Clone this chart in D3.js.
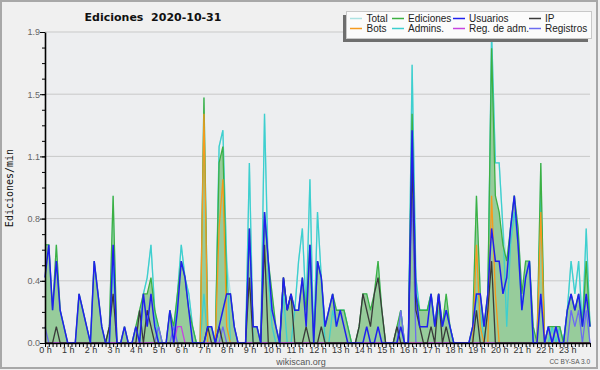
<!DOCTYPE html>
<html>
<head>
<meta charset="utf-8">
<script src="https://d3js.org/d3.v7.min.js"></script>
<title>Ediciones 2020-10-31</title>
<style>
    body { margin: 0px; background: #f0f0f0; }
    svg { display: block; font-family: "Liberation Sans", Arial, sans-serif; }
    .legend text { font-size: 10px; fill: #222; }
</style>
</head>
<body>
<svg width="600" height="370"></svg>
<script>
    // 10-minute bins, values in edits per minute
    const hourLabels = ['0 h', '1 h', '2 h', '3 h', '4 h', '5 h', '6 h', '7 h', '8 h', '9 h', '10 h', '11 h',
        '12 h', '13 h', '14 h', '15 h', '16 h', '17 h', '18 h', '19 h', '20 h', '21 h', '22 h', '23 h'];
    const yTickValues = [0, 0.38, 0.76, 1.14, 1.52, 1.9];
    const yTickLabels = ['0.0', '0.4', '0.8', '1.1', '1.5', '1.9'];

    const total = [
        0.6,0.6,0.2,0.6,0.2,0.1, 0,0,0,0.3,0.2,0.1, 0,0.5,0.3,0.1,0,0.1, 0.9,0,0,0.1,0,0,
        0.1,0.2,0.3,0.4,0.6,0.2, 0.1,0,0,0.2,0.1,0.3, 0.6,0.4,0.3,0.1,0,0, 1.5,0.1,0.1,0,1.2,1.3,
        0.5,0.3,0.1,0,0,0, 1.1,0.1,0.1,0,1.4,0.5, 0.3,0.1,0,0.4,0.2,0.3, 0.2,0.5,0.7,0.2,1.0,0,
        0.8,0.4,0.1,0.2,0.3,0.2, 0.2,0.2,0.1,0,0,0.1, 0.3,0.3,0.2,0.3,0.5,0.2, 0,0,0,0.1,0.2,0,
        0,1.7,0.4,0.2,0.2,0.2, 0.3,0.1,0.3,0.1,0.3,0.1, 0,0,0,0,0,0.1, 0.9,0.3,0.1,0.3,1.9,1.1,
        1.1,0.7,0.5,0.7,0.9,0.7, 0.3,0.5,0.5,0.1,0,1.1, 0,0.1,0.1,0.1,0.1,0, 0.2,0.5,0.3,0.5,0.1,0.7,
        0.1];
    const ediciones = [
        0.6,0.6,0.2,0.6,0.2,0.1, 0,0,0,0.3,0.2,0.1, 0,0.5,0.3,0.1,0,0.1, 0.9,0,0,0.1,0,0,
        0.1,0.2,0.3,0.3,0.4,0.2, 0.1,0,0,0.2,0.1,0.3, 0.5,0.4,0.2,0.1,0,0, 1.5,0.1,0.1,0,1.1,1.2,
        0.3,0.3,0.1,0,0,0, 0.7,0.1,0.1,0,0.8,0.5, 0.3,0.1,0,0.4,0.2,0.3, 0.2,0.2,0.4,0.2,0.6,0,
        0.5,0.4,0.1,0.2,0.3,0.2, 0.2,0.2,0.1,0,0,0.1, 0.3,0.3,0.2,0.3,0.5,0.2, 0,0,0,0.1,0.2,0,
        0,1.4,0.3,0.2,0.2,0.2, 0.3,0.1,0.3,0.1,0.3,0.1, 0,0,0,0,0,0.1, 0.9,0.3,0.1,0.3,1.8,0.9,
        0.8,0.6,0.5,0.7,0.9,0.7, 0.3,0.5,0.5,0.1,0,1.1, 0,0.1,0.1,0.1,0.1,0, 0.2,0.3,0.2,0.3,0.1,0.5,
        0.1];
    const usuarios = [
        0.4,0.6,0.2,0.5,0.2,0.1, 0,0,0,0.3,0.2,0.1, 0,0.5,0.3,0.1,0,0, 0.6,0,0,0.1,0,0,
        0.1,0,0.3,0.1,0.3,0.1, 0,0,0,0.2,0,0.2, 0.5,0.4,0.2,0,0,0, 0,0.1,0.1,0,0.1,0.2,
        0.3,0.3,0.1,0,0,0, 0.7,0.1,0.1,0,0.8,0.5, 0.2,0.1,0,0.4,0.2,0.3, 0.2,0.2,0.4,0.1,0.6,0,
        0.5,0.4,0.1,0.2,0.3,0.1, 0.2,0.1,0,0,0,0, 0,0.1,0,0,0.1,0, 0,0,0,0,0.1,0,
        0,1.3,0.3,0.1,0.1,0.1, 0.3,0.1,0.3,0.1,0.2,0.1, 0,0,0,0,0,0.1, 0.3,0.3,0.1,0.3,0.7,0.5,
        0.5,0.3,0.4,0.7,0.9,0.6, 0.2,0.4,0.5,0,0,0.3, 0,0.1,0,0.1,0,0, 0.2,0.3,0.2,0.3,0.1,0.3,
        0.1];
    const ip = [
        0,0,0,0.1,0,0, 0,0,0,0,0,0, 0,0,0,0,0,0.1, 0.3,0,0,0,0,0,
        0,0.2,0,0.2,0.1,0, 0,0,0,0,0,0, 0,0,0,0,0,0, 0,0.1,0,0,0.1,0,
        0,0,0,0,0,0, 0.4,0,0,0,0.6,0, 0,0,0,0.4,0.2,0.3, 0,0,0,0.1,0,0,
        0,0.1,0,0,0,0, 0,0,0,0,0,0.1, 0.3,0.2,0.1,0.3,0.4,0.2, 0,0,0,0.1,0,0,
        0,1.1,0.2,0.1,0,0, 0.1,0,0.3,0,0.1,0, 0,0,0,0,0,0, 0.2,0,0,0.2,0.5,0,
        0,0,0,0,0,0, 0,0,0,0,0,0, 0,0,0,0,0,0, 0,0,0,0,0,0,
        0];
    const bots = [
        0,0,0,0,0,0, 0,0,0,0,0,0, 0,0,0,0,0,0, 0,0,0,0,0,0,
        0,0,0,0,0,0, 0,0,0,0,0,0, 0,0,0,0,0,0, 1.4,0,0,0,0.7,1.0,
        0.1,0,0,0,0,0, 0,0,0,0,0,0, 0,0,0,0,0,0, 0,0,0,0,0,0,
        0,0,0,0,0,0, 0,0,0,0,0,0, 0,0,0,0,0,0, 0,0,0,0,0,0,
        0,0,0,0,0,0, 0,0,0,0,0,0, 0,0,0,0,0,0, 0.6,0.1,0,0,0.9,0.3,
        0,0,0,0,0,0, 0,0,0,0,0,0.8, 0,0,0,0,0,0, 0,0,0,0,0,0,
        0];
    const admins = [
        0,0,0,0,0,0, 0,0,0,0,0,0, 0,0,0,0,0,0, 0.5,0,0,0,0,0,
        0,0,0.3,0.4,0.6,0.2, 0,0,0,0,0,0.3, 0.6,0.4,0.3,0.1,0,0, 0.3,0,0,0,1.2,1.3,
        0.5,0,0,0,0,0, 1.1,0,0,0,1.4,0.4, 0.1,0,0,0.3,0,0, 0.2,0.5,0.7,0.2,1.0,0,
        0.8,0.4,0,0,0.2,0.1, 0.2,0.2,0.1,0,0,0, 0,0,0,0,0,0, 0,0,0,0,0.2,0,
        0,1.7,0.4,0.2,0.2,0.2, 0.3,0.1,0.2,0.1,0.2,0.1, 0,0,0,0,0,0, 0.3,0.2,0,0.2,1.9,1.1,
        1.1,0.7,0.1,0.6,0.8,0.6, 0.2,0.4,0.5,0,0,0.9, 0,0,0.1,0,0.1,0, 0.2,0.5,0.3,0.5,0.1,0.7,
        0.1];
    const regAdm = [
        0,0,0,0,0,0, 0,0,0,0,0,0, 0,0,0,0,0,0, 0,0,0,0,0,0,
        0,0,0,0,0,0, 0,0,0,0,0,0.1, 0.1,0,0,0,0,0, 0,0,0,0,0,0,
        0,0,0,0,0,0, 0,0,0,0,0,0, 0,0,0,0,0,0, 0,0,0,0,0,0,
        0,0,0,0,0,0, 0,0,0,0,0,0, 0,0,0,0,0,0, 0,0,0,0,0,0,
        0,0,0,0,0,0, 0,0,0,0,0,0, 0,0,0,0,0,0, 0,0,0,0,0,0,
        0,0,0,0,0,0, 0,0,0,0,0,0, 0,0,0,0,0,0, 0,0,0,0,0,0,
        0];
    const registros = [
        0.1,0,0,0,0,0, 0,0,0,0,0,0, 0,0,0,0,0,0, 0,0,0,0,0,0,
        0,0,0,0,0,0, 0.1,0,0,0,0.1,0, 0,0,0,0,0,0, 0,0,0,0,0,0.1,
        0,0,0,0,0,0, 0,0,0,0,0,0, 0,0,0,0,0,0, 0,0,0,0,0,0,
        0,0,0,0,0,0, 0,0,0,0,0,0, 0,0,0,0,0,0, 0,0,0,0,0.2,0,
        0,0.9,0,0,0,0, 0,0,0,0,0,0, 0,0,0,0,0,0, 0,0,0,0,0,0,
        0,0,0,0,0,0, 0,0,0,0,0,0, 0,0.1,0,0.1,0,0, 0,0.2,0.1,0.2,0,0.2,
        0];

    const minutes = d3.range(0, 1441, 10); // bin start, minutes after midnight

    const svg = d3.select('svg');
    const xScale = d3.scaleLinear().domain([0, 1440]).range([45, 590]);
    const yScale = d3.scaleLinear().domain([0, 1.9]).range([343, 32]);

    // frame + plot background
    svg.append('rect')
        .attr('x', 1).attr('y', 1).attr('width', 596).attr('height', 367)
        .attr('fill', '#f0f0f0').attr('stroke', '#a8a8a8').attr('stroke-width', 2);
    svg.append('rect')
        .attr('x', xScale(0)).attr('y', yScale(1.9))
        .attr('width', xScale(1440) - xScale(0)).attr('height', yScale(0) - yScale(1.9))
        .attr('fill', '#edeef0');

    // horizontal grid
    svg.append('g').selectAll('line')
        .data(yTickValues.slice(1))
        .join('line')
        .attr('x1', xScale(0)).attr('x2', xScale(1440))
        .attr('y1', d => yScale(d)).attr('y2', d => yScale(d))
        .attr('stroke', '#c9c9c9');

    // Ediciones area
    const area = d3.area()
        .x((d, i) => xScale(minutes[i]))
        .y0(yScale(0))
        .y1(d => yScale(d));
    svg.append('path')
        .datum(ediciones)
        .attr('fill', '#97cc9b')
        .attr('d', area);

    const line = d3.line()
        .x((d, i) => xScale(minutes[i]))
        .y(d => yScale(d));

    const series = [
        { name: 'Total', values: total, color: '#ace2e2', order: 0 },
        { name: 'Ediciones', values: ediciones, color: '#3cb043', order: 2 },
        { name: 'Usuarios', values: usuarios, color: '#2020ee', order: 7 },
        { name: 'IP', values: ip, color: '#3a3a3a', order: 6 },
        { name: 'Bots', values: bots, color: '#f59a1e', order: 3 },
        { name: 'Admins.', values: admins, color: '#3dcfcf', order: 1 },
        { name: 'Reg. de adm.', values: regAdm, color: '#c644e0', order: 5 },
        { name: 'Registros', values: registros, color: '#6c6cf0', order: 4 }
    ];

    svg.append('g')
        .selectAll('path')
        .data(series.slice().sort((a, b) => a.order - b.order))
        .join('path')
        .attr('fill', 'none')
        .attr('stroke', d => d.color)
        .attr('stroke-width', d => d.name === 'Usuarios' ? 1.5 : 1.3)
        .attr('d', d => line(d.values));

    // y axis
    const yMinor = d3.range(0, 1.9001, 0.095);
    svg.append('g')
        .attr('transform', `translate(${xScale(0)},0)`)
        .call(d3.axisLeft(yScale).tickValues(yMinor).tickSize(3).tickSizeOuter(0).tickFormat(''))
        .call(g => g.select('.domain').remove())
        .call(g => g.selectAll('line').attr('stroke', '#000'));
    const yAxisG = svg.append('g')
        .attr('transform', `translate(${xScale(0)},0)`)
        .call(d3.axisLeft(yScale)
            .tickValues(yTickValues)
            .tickFormat((d, i) => yTickLabels[i])
            .tickSize(5).tickSizeOuter(0).tickPadding(0));
    yAxisG.select('.domain').attr('stroke', '#000').attr('stroke-width', 1.6);
    yAxisG.selectAll('text').attr('font-size', 9).attr('fill', '#666')
        .attr('font-family', '"Liberation Sans", Arial, sans-serif');

    // x axis, one tick per bin
    const xAxisG = svg.append('g')
        .attr('transform', `translate(0,${yScale(0)})`)
        .call(d3.axisBottom(xScale)
            .tickValues(minutes)
            .tickSize(4).tickSizeOuter(0).tickPadding(0)
            .tickFormat(d => (d % 60 === 0 && d < 1440) ? hourLabels[d / 60] : ''));
    xAxisG.select('.domain').attr('stroke', '#000').attr('stroke-width', 1.6);
    xAxisG.selectAll('text').attr('font-size', 9).attr('fill', '#333')
        .attr('font-family', '"Liberation Sans", Arial, sans-serif');

    // titles
    svg.append('text')
        .attr('x', 153).attr('y', 21)
        .attr('text-anchor', 'middle')
        .style('white-space', 'pre')
        .attr('font-family', '"DejaVu Sans", sans-serif')
        .attr('font-weight', 'bold').attr('font-size', 11)
        .attr('fill', '#111')
        .text('Ediciones  2020-10-31');

    svg.append('text')
        .attr('transform', `translate(13,188) rotate(-90)`)
        .attr('text-anchor', 'middle')
        .attr('font-family', '"DejaVu Sans Mono", monospace')
        .attr('font-size', 10).attr('fill', '#111')
        .text('Ediciones/min');

    svg.append('text')
        .attr('x', 301).attr('y', 365)
        .attr('text-anchor', 'middle')
        .attr('font-size', 9).attr('fill', '#555')
        .text('wikiscan.org');
    svg.append('text')
        .attr('x', 590).attr('y', 364)
        .attr('text-anchor', 'end')
        .attr('font-size', 6.5).attr('fill', '#555')
        .text('CC BY-SA 3.0');

    // legend
    const legend = svg.append('g').attr('class', 'legend');
    legend.append('rect')
        .attr('x', 343).attr('y', 15).attr('width', 245).attr('height', 27)
        .attr('fill', '#6e6e6e');
    legend.append('rect')
        .attr('x', 346.5).attr('y', 11.5).attr('width', 245).attr('height', 27)
        .attr('fill', '#fbfbfb').attr('stroke', '#c8c8c8');
    const colX = [350, 392, 453, 529];
    const colTextX = [366.5, 408, 469, 545];
    const item = legend.selectAll('g.item')
        .data(series)
        .join('g')
        .attr('class', 'item')
        .attr('transform', (d, i) => `translate(0,${i < 4 ? 18.5 : 28.5})`);
    item.append('line')
        .attr('x1', (d, i) => colX[i % 4])
        .attr('x2', (d, i) => colX[i % 4] + 12)
        .attr('y1', 0).attr('y2', 0)
        .attr('stroke', d => d.color)
        .attr('stroke-width', 1.5);
    item.append('text')
        .attr('x', (d, i) => colTextX[i % 4])
        .attr('dy', '0.35em')
        .text(d => d.name);
</script>
</body>
</html>
